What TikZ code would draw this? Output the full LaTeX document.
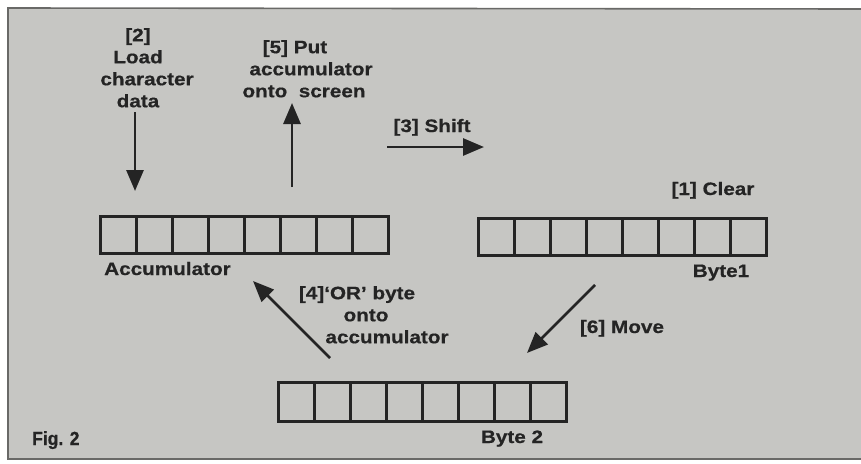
\documentclass[tikz,border=0pt]{standalone}
\usepackage{fontspec}
\usetikzlibrary{arrows.meta}
\newfontfamily\labfont[FakeStretch=1.15,FakeBold=0.6]{Liberation Sans}
\newfontfamily\figfont[FakeStretch=0.92,FakeBold=0.8]{Liberation Sans}
\definecolor{paper}{RGB}{198,198,195}
\definecolor{ink}{RGB}{36,36,36}
\definecolor{frame}{RGB}{105,105,103}
\tikzset{
  lab/.style={font=\labfont\bfseries\fontsize{18}{22}\selectfont, text=ink, inner sep=0pt, align=center},
  reg/.style={draw=ink, line width=3pt, minimum width=288pt, minimum height=37pt, inner sep=0pt, outer sep=0pt},
  flow/.style={draw=ink, line width=2.8pt, -{Triangle[length=21pt,width=17pt]}}
}
\begin{document}
\begin{tikzpicture}[x=1pt,y=-1pt]
\useasboundingbox (0,0) rectangle (861,463);
\fill[white] (0,0) rectangle (861,463);
\fill[paper] (8,8) rectangle (861,459);
\draw[frame, line width=1.6pt] (861,9) -- (8,8) -- (8,459) -- (861,459);

% registers
\node[reg] (acc) at (244,234.5) {};
\node[reg] (b1) at (622,236.5) {};
\node[reg, minimum height=39pt] (b2) at (422.5,401.5) {};
\foreach \r in {acc,b1,b2}{
  \foreach \i in {1,...,7}{
    \draw[ink, line width=3pt] ([xshift=\i*36pt]\r.north west) -- ([xshift=\i*36pt]\r.south west);
  }
}

% register labels
\node[lab, anchor=base west] (accl) at (104,275) {Accumulator};
\node[lab, anchor=base] (b1l) at (721,277) {Byte1};
\node[lab, anchor=base] (b2l) at (512,443) {Byte 2};

% step labels
\node[lab, anchor=base] (s1) at (713,195) {[1] Clear};
\node[lab, anchor=north] (s2) at (138,28) {[2]\\Load\\\kern18pt character\\data};
\node[lab, anchor=base] (s3) at (432,132) {[3] Shift};
\node[lab, anchor=north] (s4) at (372,286) {[4]‘OR’ byte\kern30pt\\onto\kern12pt\\\kern30pt accumulator};
\node[lab, anchor=north] (s5) at (304,40) {[5] Put\kern18pt\\\kern14pt accumulator\\onto \ screen};
\node[lab, anchor=base] (s6) at (622,333) {[6] Move};
\node[font=\figfont\bfseries\fontsize{19}{22}\selectfont, text=ink, inner sep=0pt, anchor=base west] (fig) at (32,445) {Fig. 2};

% arrow end points
\coordinate (a2s) at (135,112); \coordinate (a2e) at (135,191);
\coordinate (a5s) at (292,187); \coordinate (a5e) at (292,103);
\coordinate (a3s) at (387,147); \coordinate (a3e) at (484,147);
\coordinate (a4s) at (330,358); \coordinate (a4e) at (253,281);
\coordinate (a6s) at (595,285); \coordinate (a6e) at (527,353);

\draw[flow] (a2s) -- (a2e);
\draw[flow] (a5s) -- (a5e);
\draw[flow] (a3s) -- (a3e);
\draw[flow] (a4s) -- (a4e);
\draw[flow] (a6s) -- (a6e);
\end{tikzpicture}
\end{document}
